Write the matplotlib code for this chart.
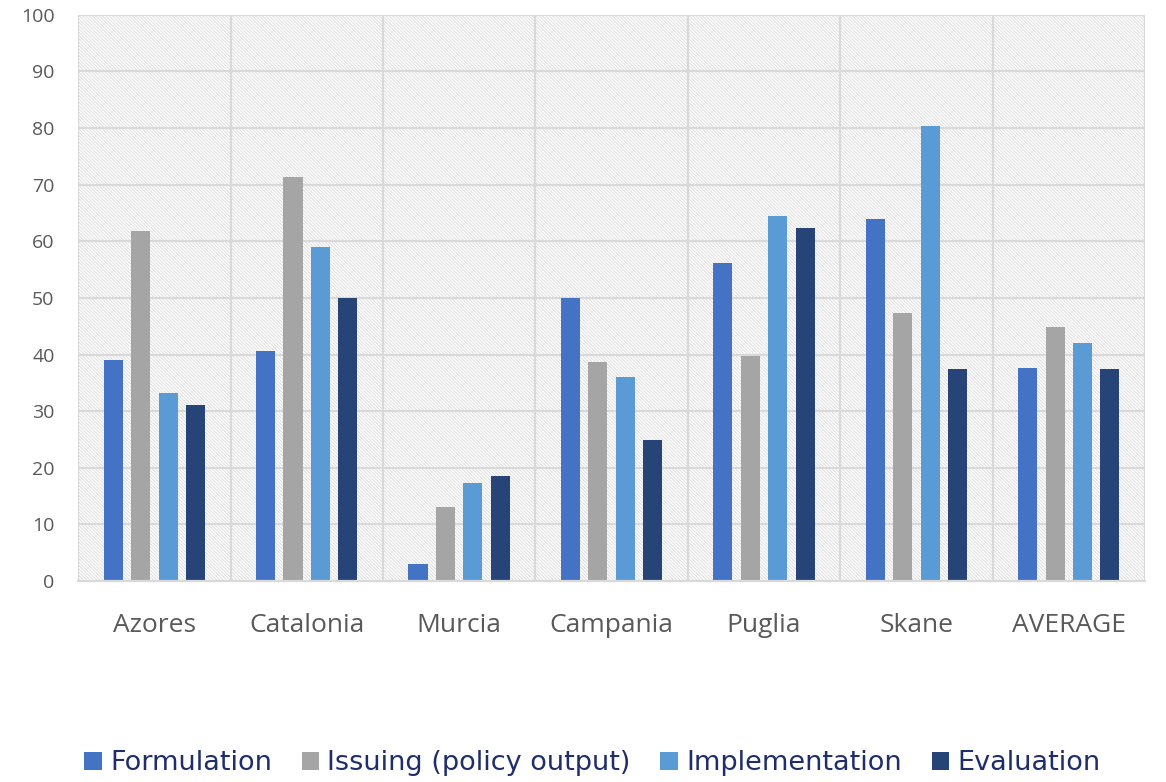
import matplotlib.pyplot as plt
import numpy as np
from matplotlib.patches import Rectangle

plt.rcParams['font.family'] = ['Open Sans', 'DejaVu Sans']
plt.rcParams['hatch.linewidth'] = 0.6
plt.rcParams['hatch.color'] = '#DADADA'

regions = ['Azores', 'Catalonia', 'Murcia', 'Campania', 'Puglia', 'Skane', 'AVERAGE']
formulation = [39.0, 40.6, 3.0, 50.0, 56.2, 64.0, 37.6]
issuing = [61.8, 71.4, 13.1, 38.7, 39.8, 47.3, 44.9]
implementation = [33.2, 59.0, 17.3, 36.0, 64.5, 80.4, 42.0]
evaluation = [31.1, 50.0, 18.6, 24.9, 62.4, 37.5, 37.5]

series = [
    ('Formulation', formulation, '#4472C4'),
    ('Issuing (policy output)', issuing, '#A5A5A5'),
    ('Implementation', implementation, '#5B9BD5'),
    ('Evaluation', evaluation, '#264478'),
]

fig = plt.figure(figsize=(11.66, 7.82), dpi=100)
ax = fig.add_axes([0.067, 0.257, 0.915, 0.724])

x = np.arange(len(regions))
width = 0.125
step = 0.18

# hatched background
ax.add_patch(Rectangle((0, 0), 1, 1, transform=ax.transAxes, facecolor='white',
                       edgecolor='#DADADA', hatch='\\' * 10, linewidth=0, zorder=0))

for i, (name, vals, col) in enumerate(series):
    ax.bar(x + (i - 1.5) * step, vals, width, color=col, label=name, zorder=3)

ax.set_xlim(-0.5, len(regions) - 0.5)
ax.set_ylim(0, 100)
ax.set_yticks(range(0, 101, 10))
ax.set_xticks(x)
ax.set_xticklabels(regions)

# grid lines: horizontal at ticks, vertical between categories
for y in range(10, 101, 10):
    ax.axhline(y, color='#D9D9D9', linewidth=1.6, zorder=1)
for b in np.arange(-0.5, len(regions), 1.0):
    ax.axvline(b, color='#D9D9D9', linewidth=1.6, zorder=1)

for s in ['top', 'right', 'left']:
    ax.spines[s].set_visible(False)
ax.spines['bottom'].set_color('#D9D9D9')
ax.spines['bottom'].set_linewidth(1.6)
ax.spines['bottom'].set_zorder(4)

ax.tick_params(axis='y', length=0, labelsize=14, labelcolor='#595959', pad=17)
ax.tick_params(axis='x', length=0, labelsize=19, labelcolor='#595959', pad=23)

leg = fig.legend(loc='center', bbox_to_anchor=(0.508, 0.024), ncol=4, frameon=False,
                 prop={'family': 'DejaVu Sans', 'size': 19.5}, handlelength=0.65,
                 handleheight=0.65, handletextpad=0.3, columnspacing=1.1)
for t in leg.get_texts():
    t.set_color('#1F2D6B')

fig.savefig('out.png', dpi=100)
